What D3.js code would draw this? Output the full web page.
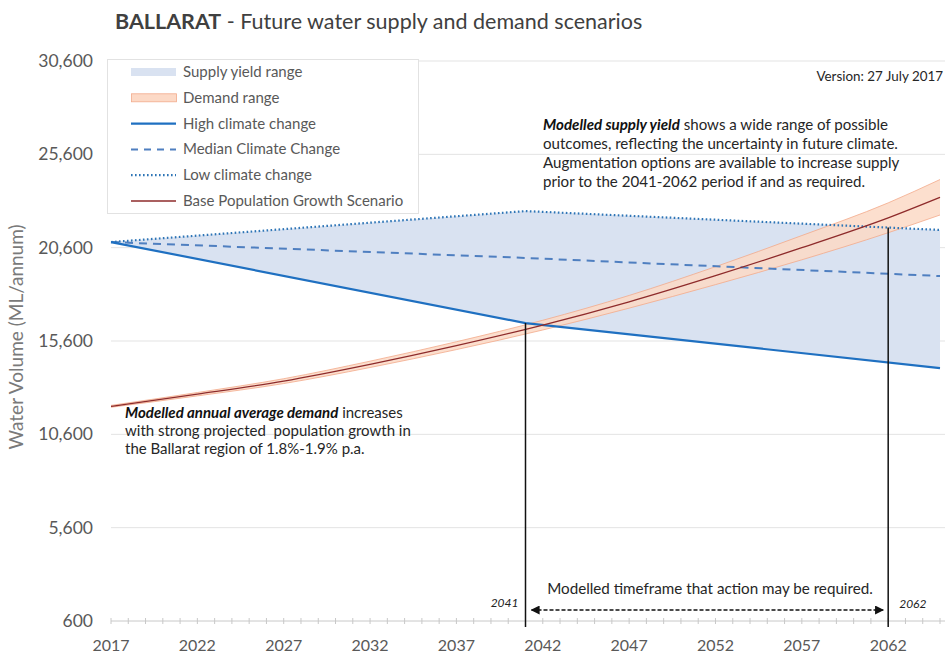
<!DOCTYPE html>
<html><head><meta charset="utf-8">
<script src="https://cdn.jsdelivr.net/npm/d3@7/dist/d3.min.js"></script>
<style>
html,body{margin:0;padding:0;background:#fff;}
svg{display:block;font-family:Lato,"Open Sans",sans-serif;}
</style></head>
<body>
<svg id="chart" width="945" height="659"></svg>
<script>
// ---------- data ----------
const supplyYears = [2017, 2041, 2065];
const highClimate = [20900, 16560, 14150];
const medianClimate = [20900, 20050, 19080];
const lowClimate = [20900, 22560, 21550];

const demandYears = [2017, 2022, 2027, 2032, 2037, 2042, 2047, 2052, 2057, 2062, 2065];
const demandBase = [12100, 12750, 13450, 14350, 15350, 16450, 17700, 19100, 20600, 22200, 23300];
const demandLow  = [12050, 12660, 13320, 14180, 15140, 16190, 17360, 18620, 19950, 21400, 22350];
const demandHigh = [12150, 12840, 13580, 14520, 15560, 16710, 18040, 19580, 21250, 23000, 24250];

const yTicks = [600, 5600, 10600, 15600, 20600, 25600, 30600];
const xTickLabels = [2017, 2022, 2027, 2032, 2037, 2042, 2047, 2052, 2057, 2062];
const actionYears = [2041, 2062];

const legendLabels = ["Supply yield range", "Demand range", "High climate change",
  "Median Climate Change", "Low climate change", "Base Population Growth Scenario"];

// ---------- setup ----------
const svg = d3.select("#chart");
const x = d3.scaleLinear().domain([2017, 2065]).range([111, 940]);
const y = d3.scaleLinear().domain([600, 30600]).range([621, 61]);

const C = {
  supplyFill: "#d9e2f1",
  high: "#1f70c1",
  median: "#4f7fc0",
  low: "#2e75b6",
  demandFill: "#fcd9c6",
  demandEdge: "#f2aa8a",
  base: "#8e2b2b",
  grid: "#e3e3e3",
  text: "#595959"
};

// gridlines
svg.append("g").selectAll("line").data(yTicks.slice(1)).join("line")
  .attr("x1", 111).attr("x2", 945)
  .attr("y1", d => y(d)).attr("y2", d => y(d))
  .attr("stroke", C.grid).attr("stroke-width", 1);

// supply range fill
const supplyRows = supplyYears.map((yr, i) => ({yr, hi: highClimate[i], lo: lowClimate[i], med: medianClimate[i]}));
svg.append("path").datum(supplyRows)
  .attr("d", d3.area().x(d => x(d.yr)).y0(d => y(d.hi)).y1(d => y(d.lo)))
  .attr("fill", C.supplyFill);

// demand band
const demandRows = demandYears.map((yr, i) => ({yr, b: demandBase[i], lo: demandLow[i], hi: demandHigh[i]}));
svg.append("path").datum(demandRows)
  .attr("d", d3.area().curve(d3.curveMonotoneX).x(d => x(d.yr)).y0(d => y(d.lo)).y1(d => y(d.hi)))
  .attr("fill", C.demandFill).attr("fill-opacity", 0.85);
svg.append("path").datum(demandRows)
  .attr("d", d3.line().curve(d3.curveMonotoneX).x(d => x(d.yr)).y(d => y(d.hi)))
  .attr("fill", "none").attr("stroke", C.demandEdge).attr("stroke-width", 0.8);
svg.append("path").datum(demandRows)
  .attr("d", d3.line().curve(d3.curveMonotoneX).x(d => x(d.yr)).y(d => y(d.lo)))
  .attr("fill", "none").attr("stroke", C.demandEdge).attr("stroke-width", 0.8);

// supply lines
const lineOf = key => d3.line().x(d => x(d.yr)).y(d => y(d[key]));
svg.append("path").datum(supplyRows).attr("d", lineOf("med"))
  .attr("fill", "none").attr("stroke", C.median).attr("stroke-width", 2).attr("stroke-dasharray", "8,6");
svg.append("path").datum(supplyRows).attr("d", lineOf("lo"))
  .attr("fill", "none").attr("stroke", C.low).attr("stroke-width", 2.2).attr("stroke-dasharray", "1.6,2.4");
svg.append("path").datum(supplyRows).attr("d", lineOf("hi"))
  .attr("fill", "none").attr("stroke", C.high).attr("stroke-width", 2.2);

// base demand line
svg.append("path").datum(demandRows)
  .attr("d", d3.line().curve(d3.curveMonotoneX).x(d => x(d.yr)).y(d => y(d.b)))
  .attr("fill", "none").attr("stroke", C.base).attr("stroke-width", 1.3);

// x axis
const xAxis = svg.append("g").attr("transform", `translate(0,${y(600)})`);
xAxis.append("line").attr("x1", 111).attr("x2", 945).attr("stroke", "#c8c8c8");
xAxis.selectAll("line.t").data(d3.range(2017, 2066)).join("line").attr("class", "t")
  .attr("x1", d => x(d)).attr("x2", d => x(d)).attr("y1", -3).attr("y2", 3)
  .attr("stroke", "#c8c8c8");
xAxis.selectAll("text").data(xTickLabels).join("text")
  .attr("x", d => x(d)).attr("y", 30).attr("text-anchor", "middle")
  .attr("font-size", 16).attr("fill", C.text).text(d => d);

// y axis labels
svg.append("g").selectAll("text").data(yTicks).join("text")
  .attr("x", 93).attr("y", d => y(d) + 6).attr("text-anchor", "end")
  .attr("font-size", 17.5).attr("fill", C.text).text(d => d3.format(",")(d));

svg.append("text").attr("transform", "translate(23,337) rotate(-90)")
  .attr("text-anchor", "middle").attr("font-size", 19).attr("fill", "#7a7a7a")
  .text("Water Volume (ML/annum)");

// title
const title = svg.append("text").attr("x", 115).attr("y", 29).attr("font-size", 21.5).attr("fill", "#404040");
title.append("tspan").attr("font-weight", "bold").text("BALLARAT");
title.append("tspan").text(" - Future water supply and demand scenarios");

// legend
const lg = svg.append("g");
lg.append("rect").attr("x", 107.5).attr("y", 59.5).attr("width", 311).attr("height", 154)
  .attr("fill", "#fff").attr("stroke", "#e2e2e2");
const rowY = i => 72 + i * 25.8;
lg.append("rect").attr("x", 131).attr("y", rowY(0) - 4).attr("width", 45).attr("height", 8).attr("fill", C.supplyFill);
lg.append("rect").attr("x", 131.5).attr("y", rowY(1) - 4).attr("width", 45).attr("height", 8)
  .attr("fill", C.demandFill).attr("stroke", C.demandEdge).attr("stroke-width", 0.8);
lg.append("line").attr("x1", 131).attr("x2", 176).attr("y1", rowY(2)).attr("y2", rowY(2))
  .attr("stroke", C.high).attr("stroke-width", 2.2);
lg.append("line").attr("x1", 131).attr("x2", 176).attr("y1", rowY(3)).attr("y2", rowY(3))
  .attr("stroke", C.median).attr("stroke-width", 2).attr("stroke-dasharray", "7,6");
lg.append("line").attr("x1", 131).attr("x2", 176).attr("y1", rowY(4)).attr("y2", rowY(4))
  .attr("stroke", C.low).attr("stroke-width", 2.2).attr("stroke-dasharray", "1.6,2.4");
lg.append("line").attr("x1", 131).attr("x2", 176).attr("y1", rowY(5)).attr("y2", rowY(5))
  .attr("stroke", C.base).attr("stroke-width", 1.3);
lg.selectAll("text").data(legendLabels).join("text")
  .attr("x", 183).attr("y", (d, i) => rowY(i) + 5).attr("font-size", 15).attr("fill", C.text).text(d => d);

// version
svg.append("text").attr("x", 943).attr("y", 81).attr("text-anchor", "end")
  .attr("font-size", 13.4).attr("fill", "#262626").text("Version: 27 July 2017");

// annotations
const supplyNote = [
  [["Modelled supply yield", true], [" shows a wide range of possible", false]],
  [["outcomes, reflecting the uncertainty in future climate.", false]],
  [["Augmentation options are available to increase supply", false]],
  [["prior to the 2041-2062 period if and as required.", false]]
];
const demandNote = [
  [["Modelled annual average demand", true], [" increases", false]],
  [["with strong projected  population growth in", false]],
  [["the Ballarat region of 1.8%-1.9% p.a.", false]]
];
function note(lines, x0, y0, dy, fs) {
  lines.forEach((parts, i) => {
    const t = svg.append("text").attr("x", x0).attr("y", y0 + i * dy)
      .attr("font-size", fs).attr("fill", "#262626").attr("xml:space", "preserve");
    parts.forEach(([s, em]) => {
      const sp = t.append("tspan").text(s);
      if (em) sp.attr("font-weight", "bold").attr("font-style", "italic").attr("fill", "#111");
    });
  });
}
note(supplyNote, 543, 130, 19, 15.1);
note(demandNote, 125, 418, 18, 15);

// action timeframe verticals
const hiAt = d3.scaleLinear().domain(supplyYears).range(highClimate);
const loAt = d3.scaleLinear().domain(supplyYears).range(lowClimate);
svg.append("line").attr("x1", x(actionYears[0])).attr("x2", x(actionYears[0]))
  .attr("y1", y(hiAt(actionYears[0]))).attr("y2", 627).attr("stroke", "#111").attr("stroke-width", 1.5);
svg.append("line").attr("x1", x(actionYears[1])).attr("x2", x(actionYears[1]))
  .attr("y1", y(loAt(actionYears[1]))).attr("y2", 627).attr("stroke", "#111").attr("stroke-width", 1.5);

// arrow
const defs = svg.append("defs");
defs.append("marker").attr("id", "ah").attr("viewBox", "0 0 10 10").attr("refX", 9).attr("refY", 5)
  .attr("markerWidth", 9).attr("markerHeight", 9).attr("markerUnits", "userSpaceOnUse").attr("orient", "auto-start-reverse")
  .append("path").attr("d", "M0,0 L10,5 L0,10 z").attr("fill", "#111");
svg.append("line").attr("x1", x(actionYears[0]) + 6).attr("x2", x(actionYears[1]) - 5)
  .attr("y1", 610).attr("y2", 610).attr("stroke", "#111").attr("stroke-width", 1.6)
  .attr("stroke-dasharray", "4,2").attr("marker-start", "url(#ah)").attr("marker-end", "url(#ah)");
svg.append("text").attr("x", 710).attr("y", 594).attr("text-anchor", "middle")
  .attr("font-size", 15.2).attr("fill", "#262626").text("Modelled timeframe that action may be required.");
svg.append("text").attr("x", x(actionYears[0]) - 7).attr("y", 607).attr("text-anchor", "end")
  .attr("font-size", 12).attr("font-style", "italic").attr("fill", "#222").text(String(actionYears[0]));
svg.append("text").attr("x", x(actionYears[1]) + 11).attr("y", 608).attr("text-anchor", "start")
  .attr("font-size", 12).attr("font-style", "italic").attr("fill", "#222").text(String(actionYears[1]));
</script>
</body></html>
